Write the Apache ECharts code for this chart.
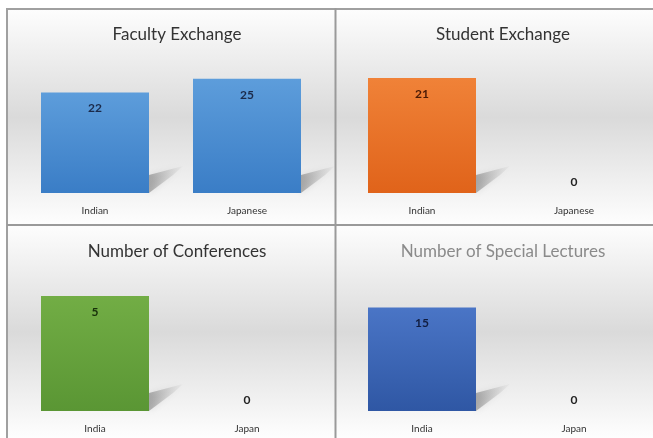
<!DOCTYPE html>
<html>
<head>
<meta charset="utf-8">
<script src="https://cdn.jsdelivr.net/npm/echarts@6/dist/echarts.min.js"></script>
<style>
  html, body { margin: 0; padding: 0; background: #fff; }
  #main { width: 653px; height: 438px; }
</style>
</head>
<body>
<div id="main"></div>
<script>
// panel titles
var titles = ['Faculty Exchange', 'Student Exchange', 'Number of Conferences', 'Number of Special Lectures']
// categories for each panel
var facultyCats = ['Indian', 'Japanese']
var studentCats = ['Indian', 'Japanese']
var confCats = ['India', 'Japan']
var lectureCats = ['India', 'Japan']
// values
var facultyData = [22, 25]
var studentData = [21, 0]
var confData = [5, 0]
var lectureData = [15, 0]
// hidden value axis maximums (excel autoscale)
var axisMax = [30, 25, 6, 20]

var font = 'Lato, "Open Sans", sans-serif'
var myChart = echarts.init(document.getElementById('main'))

var panels = [
  { cats: facultyCats, data: facultyData, left: 19, top: 56, height: 137, top1: '#5d9ddb', bot: '#3a7dc6', lbl: '#1b2a4a', tx: 172, ty: 21, tc: '#333' },
  { cats: studentCats, data: studentData, left: 346, top: 56, height: 137, top1: '#f08238', bot: '#e0631a', lbl: '#4a1a05', tx: 498, ty: 21, tc: '#333' },
  { cats: confCats, data: confData, left: 19, top: 273, height: 138, top1: '#72ad45', bot: '#5a9634', lbl: '#17300a', tx: 172, ty: 238, tc: '#333' },
  { cats: lectureCats, data: lectureData, left: 346, top: 273, height: 138, top1: '#4a75c6', bot: '#2f57a4', lbl: '#111d40', tx: 498, ty: 238, tc: '#8a8a8a' }
]

function bgGrad() {
  return new echarts.graphic.LinearGradient(0, 0, 0, 1, [
    { offset: 0, color: '#fdfdfd' },
    { offset: 0.5, color: '#dadada' },
    { offset: 1, color: '#fefefe' }
  ])
}

var grids = [], xAxes = [], yAxes = [], series = [], titleList = []
panels.forEach(function (p, i) {
  grids.push({ left: p.left, top: p.top, width: 304, height: p.height })
  xAxes.push({
    gridIndex: i, type: 'category', data: p.cats,
    axisLine: { show: false }, axisTick: { show: false },
    axisLabel: { color: '#333', fontSize: 10, fontFamily: font, margin: 13 }
  })
  yAxes.push({ gridIndex: i, type: 'value', min: 0, max: axisMax[i], show: false, splitLine: { show: false } })
  titleList.push({
    text: titles[i], left: p.tx, top: p.ty, textAlign: 'center',
    textStyle: { fontSize: 17, fontWeight: 'normal', color: p.tc, fontFamily: font }
  })
  // perspective shadow behind the bar
  series.push({
    type: 'custom', xAxisIndex: i, yAxisIndex: i, z: 1, silent: true,
    data: p.data.map(function (v, k) { return [k, v] }),
    renderItem: function (params, api) {
      if (api.value(1) <= 0) return
      var pt = api.coord([api.value(0), 0])
      var xr = pt[0] + 54, yb = pt[1]
      return {
        type: 'polygon',
        shape: { points: [[xr, yb], [xr, yb - 18], [xr + 34, yb - 27], [xr + 24, yb - 18]] },
        style: {
          fill: new echarts.graphic.LinearGradient(0, 0, 1, 0, [
            { offset: 0, color: 'rgba(90,90,90,0.45)' },
            { offset: 1, color: 'rgba(150,150,150,0.05)' }
          ]),
          shadowBlur: 6,
          shadowColor: 'rgba(90,90,90,0.35)'
        }
      }
    }
  })
  series.push({
    type: 'bar', xAxisIndex: i, yAxisIndex: i, z: 2, barWidth: 108,
    itemStyle: {
      color: new echarts.graphic.LinearGradient(0, 0, 0, 1, [
        { offset: 0, color: p.top1 }, { offset: 1, color: p.bot }
      ])
    },
    data: p.data.map(function (v) {
      return {
        value: v,
        label: v > 0
          ? { show: true, position: 'insideTop', distance: 10, color: p.lbl, fontWeight: 'bold', fontSize: 12, fontFamily: font }
          : { show: true, position: 'top', distance: 5, color: '#222', fontWeight: 'bold', fontSize: 12, fontFamily: font }
      }
    })
  })
})

myChart.setOption({
  animation: false,
  backgroundColor: '#fff',
  graphic: [
    { type: 'rect', shape: { x: 8, y: 10, width: 327, height: 215 }, style: { fill: bgGrad() }, z: -10 },
    { type: 'rect', shape: { x: 336, y: 10, width: 317, height: 215 }, style: { fill: bgGrad() }, z: -10 },
    { type: 'rect', shape: { x: 8, y: 226, width: 327, height: 212 }, style: { fill: bgGrad() }, z: -10 },
    { type: 'rect', shape: { x: 336, y: 226, width: 317, height: 212 }, style: { fill: bgGrad() }, z: -10 },
    { type: 'line', shape: { x1: 7, y1: 9, x2: 653, y2: 9 }, style: { stroke: '#a0a0a0', lineWidth: 2 }, z: -5 },
    { type: 'line', shape: { x1: 7, y1: 8, x2: 7, y2: 438 }, style: { stroke: '#a0a0a0', lineWidth: 2 }, z: -5 },
    { type: 'line', shape: { x1: 335.5, y1: 8, x2: 335.5, y2: 438 }, style: { stroke: '#9a9a9a', lineWidth: 2 }, z: -5 },
    { type: 'line', shape: { x1: 7, y1: 225, x2: 653, y2: 225 }, style: { stroke: '#9a9a9a', lineWidth: 2 }, z: -5 }
  ],
  title: titleList,
  grid: grids,
  xAxis: xAxes,
  yAxis: yAxes,
  series: series
})
</script>
</body>
</html>
